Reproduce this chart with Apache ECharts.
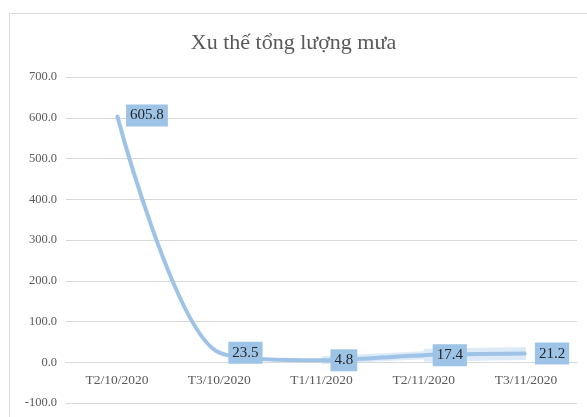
<!DOCTYPE html>
<html>
<head>
<meta charset="utf-8">
<script src="https://cdn.jsdelivr.net/npm/echarts@6/dist/echarts.min.js"></script>
<style>
html,body{margin:0;padding:0;background:#fff;}
#chart{width:587px;height:417px;}
</style>
</head>
<body>
<div id="chart"></div>
<script>
const categories = ['T2/10/2020', 'T3/10/2020', 'T1/11/2020', 'T2/11/2020', 'T3/11/2020'];
const rainfall = [605.8, 23.5, 4.8, 17.4, 21.2];
// faint trend band over the last weeks
const bandA = [null, null, 4.8, 17.4, null];
const bandB = [null, null, null, 17.4, 21.2];

const FONT = '"Liberation Serif", "DejaVu Serif", serif';
const LINE_COLOR = '#9fc3e7';

const myChart = echarts.init(document.getElementById('chart'));
const band = (data, w, op) => ({
    type: 'line', data: data, smooth: 0.3, symbol: 'none', silent: true, z: 1,
    lineStyle: {color: LINE_COLOR, width: w, opacity: op}
});
myChart.setOption({
    backgroundColor: '#ffffff',
    animation: false,
    title: {
        text: 'Xu thế tổng lượng mưa',
        left: 'center', top: 27,
        textStyle: {fontFamily: FONT, fontSize: 22, fontWeight: 'normal', color: '#595959'}
    },
    graphic: [{
        type: 'rect', left: 7, top: 11, silent: true,
        shape: {width: 590, height: 420},
        style: {fill: 'none', stroke: '#d9d9d9', lineWidth: 1}
    }],
    grid: {left: 66, right: 10, top: 77, bottom: 14, outerBoundsMode: 'none'},
    xAxis: {
        type: 'category', data: categories, boundaryGap: true,
        offset: -41,
        axisLine: {show: true, onZero: false, lineStyle: {color: '#d9d9d9'}},
        axisTick: {show: false},
        axisLabel: {fontFamily: FONT, fontSize: 13.5, color: '#595959', margin: 11}
    },
    yAxis: {
        type: 'value', min: -100, max: 700, interval: 100,
        axisLine: {show: false}, axisTick: {show: false},
        splitLine: {lineStyle: {color: '#d9d9d9', width: 1}},
        axisLabel: {fontFamily: FONT, fontSize: 12.5, color: '#595959', margin: 9,
            formatter: v => v.toFixed(1)}
    },
    series: [
        band(bandA, 8, 0.35),
        band(bandB, 13, 0.35),
        {
            type: 'line', data: rainfall, smooth: 0.3, z: 3,
            symbol: 'circle', symbolSize: 2, showSymbol: true, showAllSymbol: true,
            itemStyle: {color: LINE_COLOR, borderWidth: 0},
            lineStyle: {color: LINE_COLOR, width: 4},
            label: {
                show: true, position: 'right', distance: 8, offset: [0, -2],
                backgroundColor: '#9dc3e6', padding: [4, 4, 3, 4],
                fontFamily: FONT, fontSize: 15, color: '#262626'
            },
            labelLayout: {hideOverlap: false}
        }
    ]
});
window.addEventListener('resize', () => myChart.resize());
</script>
</body>
</html>
